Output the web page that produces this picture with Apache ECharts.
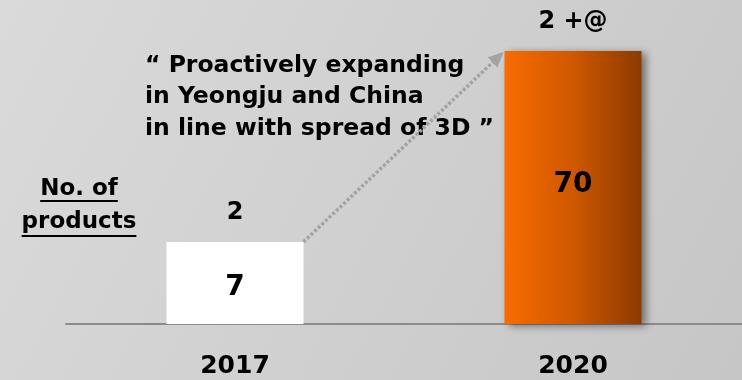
<!DOCTYPE html>
<html>
<head>
<meta charset="utf-8">
<script src="https://cdn.jsdelivr.net/npm/echarts@6/dist/echarts.min.js"></script>
<style>
  html, body { margin: 0; padding: 0; }
  #chart { width: 742px; height: 380px; }
</style>
</head>
<body>
<div id="chart"></div>
<script>
// Product count by year
const years = ['2017', '2020'];
const productCounts = [7, 70];
const topLabels = ['2', '2 +@'];
const axisTitleLines = ['No. of', 'products'];
const noteText = '“ Proactively expanding\nin Yeongju and China\nin line with spread of 3D ”';

const FONT = '"DejaVu Sans", Verdana, sans-serif';
const chart = echarts.init(document.getElementById('chart'), null, { renderer: 'canvas' });

const orange = new echarts.graphic.LinearGradient(0, 0, 1, 0, [
  { offset: 0, color: '#f86c00' },
  { offset: 0.5, color: '#cf5800' },
  { offset: 1, color: '#8c3a00' }
]);

const option = {
  animation: false,
  backgroundColor: new echarts.graphic.LinearGradient(0, 0, 1, 1, [
    { offset: 0, color: '#dadada' },
    { offset: 1, color: '#c6c6c6' }
  ]),
  grid: { left: 66, right: -2, top: 51, bottom: 56 },
  xAxis: {
    type: 'category',
    data: years,
    axisLine: { show: true, onZero: false, lineStyle: { color: '#8c8c8c', width: 2 } },
    axisTick: { show: false },
    axisLabel: { margin: 30, color: '#000', fontSize: 25, fontWeight: 'bold', fontFamily: FONT }
  },
  yAxis: {
    type: 'log',
    min: 2.6,
    max: 70,
    show: false,
    splitLine: { show: false }
  },
  series: [
    {
      type: 'bar',
      barWidth: 137,
      clip: true,
      data: productCounts.map((v, i) => ({
        value: v,
        itemStyle: i === 0
          ? { color: '#ffffff' }
          : { color: orange, shadowColor: 'rgba(0,0,0,0.45)', shadowBlur: 8, shadowOffsetX: 4, shadowOffsetY: 2 }
      })),
      label: {
        show: true,
        position: 'inside',
        color: '#000',
        fontSize: 28,
        fontWeight: 'bold',
        fontFamily: FONT
      },
      labelLayout: (p) => p.dataIndex === 1 ? { dy: -3 } : { dy: 5 }
    },
    {
      type: 'scatter',
      symbolSize: 0,
      clip: false,
      silent: true,
      itemStyle: { opacity: 1 },
      data: productCounts,
      label: {
        show: true,
        position: 'top',
        distance: 17,
        color: '#000',
        opacity: 1,
        fontSize: 24,
        fontWeight: 'bold',
        fontFamily: FONT,
        formatter: (p) => topLabels[p.dataIndex]
      }
    }
  ]
};
chart.setOption(option);

// Underlined axis title, note text and the growth arrow between bar tops
const ctx = document.createElement('canvas').getContext('2d');
const titleFont = 'bold 23px ' + FONT;
ctx.font = titleFont;
const titleCx = 79;
const titleRows = [189, 222];
const underlineGap = [11, 13];
const graphics = [];
axisTitleLines.forEach((line, i) => {
  const w = ctx.measureText(line).width;
  graphics.push({
    type: 'text',
    x: titleCx, y: titleRows[i],
    style: { text: line, font: titleFont, fill: '#000', align: 'center', verticalAlign: 'middle' }
  });
  graphics.push({
    type: 'rect',
    shape: { x: titleCx - w / 2, y: titleRows[i] + underlineGap[i], width: w, height: 2 },
    style: { fill: '#000' }
  });
});

graphics.push({
  type: 'text',
  x: 145, y: 50,
  style: { text: noteText, font: 'bold 23.5px ' + FONT, fill: '#000', lineHeight: 31.5 }
});

const half = 137 / 2;
const p0 = chart.convertToPixel({ gridIndex: 0 }, [years[0], productCounts[0]]);
const p1 = chart.convertToPixel({ gridIndex: 0 }, [years[1], productCounts[1]]);
const start = [p0[0] + half, p0[1]];
const end = [p1[0] - half - 1, p1[1] + 1];
const ang = Math.atan2(end[1] - start[1], end[0] - start[0]);
const headLen = 15, headW = 7;
const base = [end[0] - headLen * Math.cos(ang), end[1] - headLen * Math.sin(ang)];
graphics.push({
  type: 'line',
  shape: { x1: start[0], y1: start[1], x2: base[0], y2: base[1] },
  style: { stroke: '#a3a3a3', lineWidth: 3.5, lineDash: [3, 2] }
});
graphics.push({
  type: 'polygon',
  shape: {
    points: [
      end,
      [base[0] + headW * Math.sin(ang), base[1] - headW * Math.cos(ang)],
      [base[0] - headW * Math.sin(ang), base[1] + headW * Math.cos(ang)]
    ]
  },
  style: { fill: '#a3a3a3' }
});

chart.setOption({ graphic: graphics });
</script>
</body>
</html>
